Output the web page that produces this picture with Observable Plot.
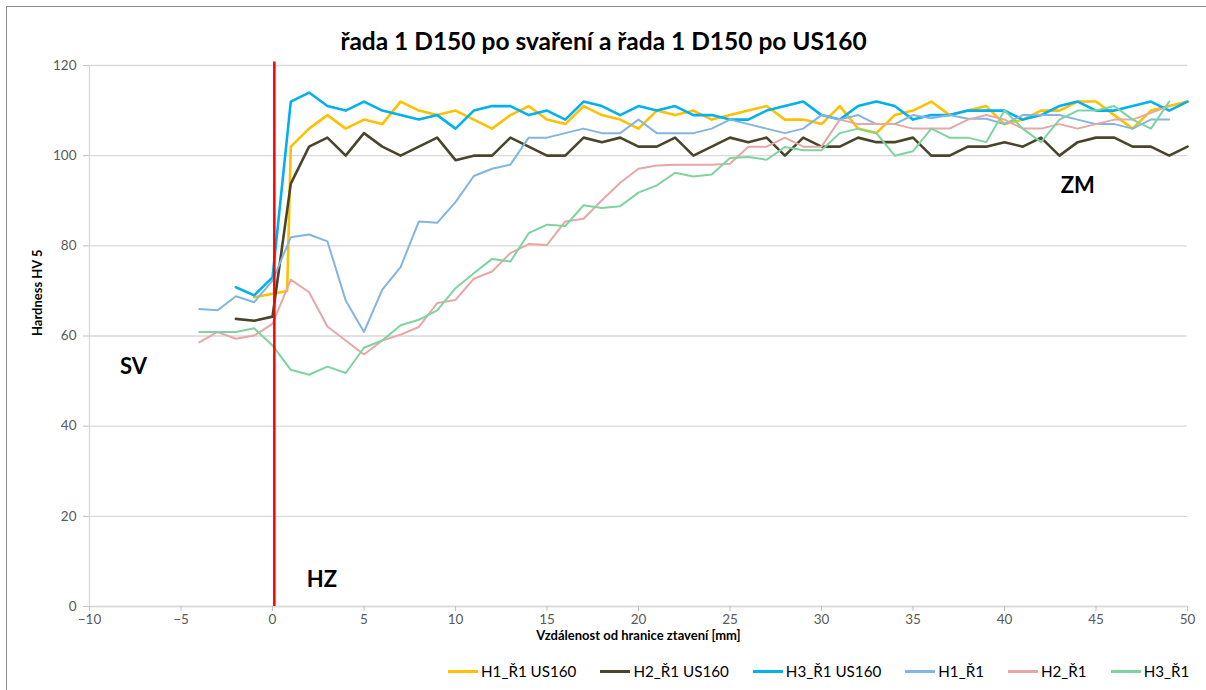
<!DOCTYPE html>
<html><head><meta charset="utf-8">
<script src="https://cdn.jsdelivr.net/npm/d3@7"></script>
<script src="https://cdn.jsdelivr.net/npm/@observablehq/plot@0.6"></script>
<style>
body{margin:0;background:#fff;font-family:Lato,"Open Sans",sans-serif;}
#frame{position:absolute;left:6px;top:6px;width:1300px;height:800px;border-left:1px solid #8c8c8c;border-top:1px solid #8c8c8c;}
#chart{position:absolute;left:0;top:0;}
#legend{position:absolute;top:660px;left:448px;display:flex;gap:24px;font-size:15.2px;color:#000;align-items:center;height:22px;white-space:nowrap}
.item{display:flex;align-items:center}
.sw{width:30px;height:0;border-top:3px solid;margin-right:3px}
</style></head><body>
<div id="frame"></div><div id="chart"></div><div id="legend"></div>
<script>
// ---- data ----
const chartTitle = "řada 1 D150 po svaření a řada 1 D150 po US160";
const xTitle = "Vzdálenost od hranice ztavení [mm]";
const yTitle = "Hardness HV 5";
const xTicks = [-10,-5,0,5,10,15,20,25,30,35,40,45,50];
const yTicks = [0,20,40,60,80,100,120];
const seriesNames = ["H1_Ř1 US160","H2_Ř1 US160","H3_Ř1 US160","H1_Ř1","H2_Ř1","H3_Ř1"];

const xH1US = [-1,0.8,1,2,3,4,5,6,7,8,9,10,11,12,13,14,15,16,17,18,19,20,21,22,23,24,25,26,27,28,29,30,31,32,33,34,35,36,37,38,39,40,41,42,43,44,45,46,47,48,49,50];
const yH1US = [68.6,70,102,106,109,106,108,107,112,110,109,110,108,106,109,111,108,107,111,109,108,106,110,109,110,108,109,110,111,108,108,107,111,106,105,109,110,112,109,110,111,107,108,110,110,112,112,109,106,110,111,112];

const xUS = [-2,-1,0,1,2,3,4,5,6,7,8,9,10,11,12,13,14,15,16,17,18,19,20,21,22,23,24,25,26,27,28,29,30,31,32,33,34,35,36,37,38,39,40,41,42,43,44,45,46,47,48,49,50];
const yH2US = [63.8,63.4,64.3,93.8,102,104,100,105,102,100,102,104,99,100,100,104,102,100,100,104,103,104,102,102,104,100,102,104,103,104,100,104,102,102,104,103,103,104,100,100,102,102,103,102,104,100,103,104,104,102,102,100,102];
const yH3US = [70.8,69,73,112,114,111,110,112,110,109,108,109,106,110,111,111,109,110,108,112,111,109,111,110,111,109,109,108,108,110,111,112,109,108,111,112,111,108,109,109,110,110,110,108,109,111,112,110,110,111,112,110,112];

const xR1 = [-4,-3,-2,-1,0,1,2,3,4,5,6,7,8,9,10,11,12,13,14,15,16,17,18,19,20,21,22,23,24,25,26,27,28,29,30,31,32,33,34,35,36,37,38,39,40,41,42,43,44,45,46,47,48,49];
const yH1R1 = [66,65.7,68.8,67.5,72.3,81.9,82.5,81,67.9,60.9,70.3,75.3,85.4,85.1,89.7,95.5,97.1,98,104,104,105,106,105,105,108,105,105,105,106,108,107,106,105,106,109,108,109,107,107,109,108.3,109,108.2,108.2,107,109,109,109,108,107,107,106,108,108];
const yH2R1 = [58.6,60.9,59.4,60.1,62.7,72.5,69.7,62.1,59,55.9,59,60.3,62,67.3,68,72.7,74.3,78.4,80.4,80.2,85.4,86,90.1,94,97.1,97.8,98,98,98,98.2,102,102,104,102,102,108,107,107,107,106,106,106,108,109,108,106,106,107,106,107,108,108,109.5,111];
const yH3R1 = [60.9,60.9,60.9,61.7,57.9,52.5,51.4,53.2,51.8,57.4,59,62.4,63.6,65.7,70.6,73.9,77.1,76.5,82.8,84.7,84.4,89,88.4,88.8,91.8,93.4,96.2,95.4,95.8,99.5,99.7,99.1,101.9,101.2,101.2,105,106,105,100,101,106,104,104,103,110,106,103,108,110,110,111,108,106,112];

const boundary = [0.1];
const zoneNames = ["SV","HZ","ZM"];
const zoneX = [-7.6, 2.7, 44];
const zoneY = [53.2, 5.8, 93.2];

// ---- styles ----
const styles = [
  {color:"#FFC000", width:2.6},
  {color:"#4A452A", width:2.6},
  {color:"#00B0F0", width:2.6},
  {color:"#82B5E0", width:2},
  {color:"#E6A7A7", width:2},
  {color:"#7DD4A1", width:2}
];
const seriesXY = [[xH1US,yH1US],[xUS,yH2US],[xUS,yH3US],[xR1,yH1R1],[xR1,yH2R1],[xR1,yH3R1]];

const rows = [];
seriesXY.forEach(([xs,ys],k)=>xs.forEach((x,i)=>rows.push({series:seriesNames[k], x, y:ys[i]})));
const zones = zoneNames.map((t,i)=>({label:t, x:zoneX[i], y:zoneY[i]}));

const lineMarks = seriesNames.map((name,k)=>Plot.line(rows.filter(r=>r.series===name),
  {x:"x", y:"y", stroke:styles[k].color, strokeWidth:styles[k].width, strokeLinejoin:"round", strokeLinecap:"round"}));

const chart = Plot.plot({
  width:1206, height:650,
  marginLeft:89, marginRight:19, marginTop:65, marginBottom:44,
  x:{domain:[-10,50]},
  y:{domain:[0,120]},
  style:{fontFamily:"Lato, 'Open Sans', sans-serif", fontSize:"13px", color:"#595959", background:"transparent", overflow:"visible"},
  marks:[
    Plot.gridY(yTicks, {stroke:"#d9d9d9", strokeOpacity:1, strokeWidth:1.3}),
    Plot.ruleX([-10], {stroke:"#d9d9d9", strokeWidth:1.3}),
    Plot.ruleY([0], {stroke:"#d9d9d9", strokeWidth:1.3}),
    Plot.axisY(yTicks, {tickSize:6, tickPadding:7, stroke:"#bfbfbf", fill:"#595959", label:null, fontSize:13.5}),
    Plot.axisX(xTicks, {tickSize:5, tickPadding:3, stroke:"#bfbfbf", fill:"#595959", label:null, fontSize:13.5}),
    ...lineMarks,
    Plot.ruleX(boundary, {y1:0, y2:120.8, stroke:"#ff0000", strokeWidth:2.5}),
    Plot.text(zones, {x:"x", y:"y", text:"label", fontSize:22, fontWeight:"bold", fill:"#000"}),
    Plot.text([chartTitle], {frameAnchor:"top", dx:-35, dy:-33, fontSize:24.5, fontWeight:"bold", fill:"#000"}),
    Plot.text([xTitle], {frameAnchor:"bottom", dy:33, fontSize:13, fontWeight:"bold", fill:"#000"}),
    Plot.text([yTitle], {frameAnchor:"left", dx:-52, rotate:-90, fontSize:13, fontWeight:"bold", fill:"#000"})
  ]
});
document.getElementById("chart").appendChild(chart);

const legend = document.getElementById("legend");
seriesNames.forEach((name,k)=>{
  const it = document.createElement("div"); it.className="item";
  const sw = document.createElement("span"); sw.className="sw"; sw.style.borderTopColor = styles[k].color;
  const tx = document.createElement("span"); tx.textContent = name;
  it.appendChild(sw); it.appendChild(tx); legend.appendChild(it);
});
</script></body></html>
